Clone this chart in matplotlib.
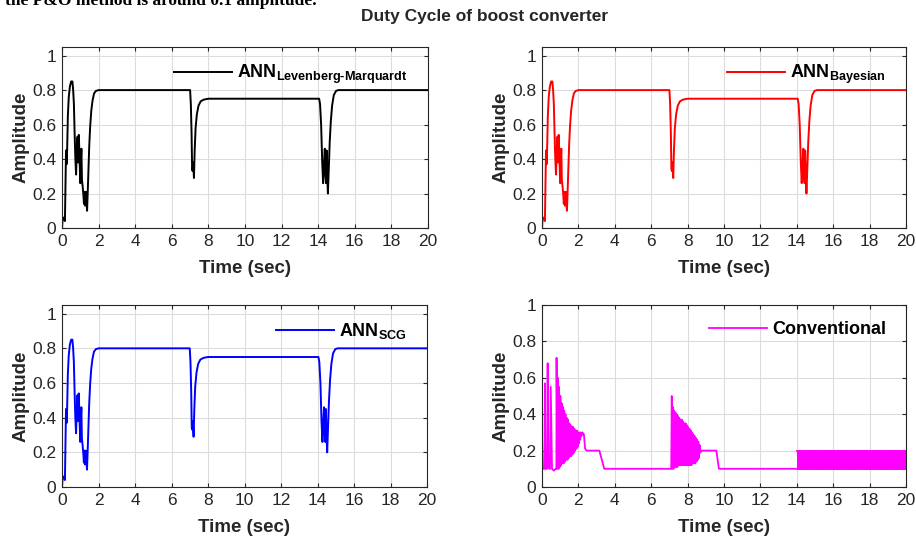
import numpy as np
import matplotlib
matplotlib.use("Agg")
import matplotlib.pyplot as plt

plt.rcParams['font.family'] = ['Liberation Sans', 'DejaVu Sans']
plt.rcParams['mathtext.fontset'] = 'custom'
plt.rcParams['mathtext.rm'] = 'Liberation Sans'
plt.rcParams['mathtext.bf'] = 'Liberation Sans:bold'

# ANN controllers (the three trained networks give visually the same duty cycle)
ann_time = [0.00, 0.04, 0.09, 0.13, 0.16, 0.19, 0.22, 0.25, 0.28, 0.32, 0.37, 0.43,
            0.50, 0.57, 0.61, 0.65, 0.69, 0.73, 0.77, 0.81, 0.85, 0.88, 0.92, 0.96,
            1.00, 1.03, 1.06, 1.09, 1.13, 1.17, 1.20, 1.23, 1.26, 1.30, 1.34, 1.37,
            1.41, 1.45, 1.49, 1.54, 1.60, 1.67, 1.75, 1.85, 2.00,
            7.00, 7.04, 7.08, 7.11, 7.14, 7.17, 7.21, 7.25, 7.30, 7.37, 7.46, 7.58,
            7.75, 8.00,
            14.05, 14.10, 14.16, 14.22, 14.27, 14.32, 14.36, 14.40, 14.43, 14.46,
            14.49, 14.53, 14.58, 14.63, 14.69, 14.76, 14.85, 14.97, 15.10, 20.00]
ann_lm = [0.00, 0.06, 0.06, 0.05, 0.04, 0.25, 0.45, 0.37, 0.45, 0.65, 0.76, 0.82,
          0.85, 0.85, 0.80, 0.72, 0.55, 0.40, 0.31, 0.45, 0.53, 0.38, 0.54, 0.40,
          0.26, 0.38, 0.46, 0.28, 0.24, 0.19, 0.14, 0.21, 0.13, 0.21, 0.15, 0.10,
          0.22, 0.35, 0.48, 0.59, 0.68, 0.74, 0.78, 0.795, 0.80,
          0.80, 0.72, 0.55, 0.34, 0.33, 0.38, 0.29, 0.45, 0.58, 0.66, 0.71, 0.735,
          0.745, 0.75,
          0.75, 0.72, 0.60, 0.38, 0.26, 0.38, 0.46, 0.30, 0.26, 0.45,
          0.32, 0.20, 0.35, 0.50, 0.62, 0.71, 0.77, 0.795, 0.80, 0.80]
ann_bayes = list(ann_lm)
ann_scg = list(ann_lm)

# conventional P&O controller
conv_time = [0.00, 0.03, 0.08, 0.13, 0.16, 0.19, 0.24, 0.28, 0.31, 0.35, 0.40, 0.44,
             0.48, 0.55, 0.65, 0.75, 0.79,
             0.80, 0.84, 0.87, 0.91, 0.94, 0.98, 1.01, 1.05, 1.08, 1.12, 1.15, 1.19,
             1.22, 1.26, 1.29, 1.33, 1.36, 1.40, 1.43, 1.47, 1.50, 1.54, 1.57, 1.61,
             1.64, 1.68, 1.71, 1.75, 1.78, 1.82, 1.85, 1.89, 1.92, 1.96, 1.99, 2.03,
             2.06, 2.10, 2.13, 2.17, 2.22, 2.30, 2.37, 2.45, 3.15, 3.42,
             7.10, 7.13, 7.16, 7.19, 7.23, 7.26, 7.30, 7.33, 7.37, 7.40, 7.44, 7.47,
             7.51, 7.54, 7.58, 7.61, 7.65, 7.68, 7.72, 7.75, 7.79, 7.82, 7.86, 7.89,
             7.93, 7.96, 8.00, 8.03, 8.07, 8.10, 8.14, 8.17, 8.21, 8.24, 8.28, 8.31,
             8.35, 8.38, 8.42, 8.45, 8.49, 8.52, 8.56, 8.59, 8.63, 8.66, 8.70, 8.74,
             9.58, 9.72, 14.00]
conv_duty = [0.29, 0.10, 0.10, 0.10, 0.57, 0.10, 0.10, 0.10, 0.68, 0.12, 0.10, 0.10,
             0.55, 0.10, 0.09, 0.10, 0.10,
             0.71, 0.10, 0.60, 0.10, 0.55, 0.11, 0.50, 0.12, 0.46, 0.13, 0.44, 0.13,
             0.42, 0.14, 0.40, 0.15, 0.38, 0.15, 0.37, 0.16, 0.35, 0.17, 0.34, 0.17,
             0.33, 0.18, 0.33, 0.19, 0.32, 0.20, 0.31, 0.21, 0.31, 0.22, 0.30, 0.24,
             0.30, 0.26, 0.30, 0.28, 0.30, 0.29, 0.21, 0.20, 0.20, 0.10,
             0.10, 0.50, 0.10, 0.44, 0.10, 0.42, 0.11, 0.41, 0.11, 0.40, 0.11, 0.39,
             0.12, 0.38, 0.12, 0.37, 0.12, 0.37, 0.12, 0.36, 0.12, 0.35, 0.12, 0.35,
             0.12, 0.34, 0.12, 0.33, 0.12, 0.32, 0.12, 0.31, 0.12, 0.30, 0.13, 0.29,
             0.13, 0.28, 0.13, 0.27, 0.14, 0.26, 0.15, 0.25, 0.16, 0.23, 0.19, 0.20,
             0.20, 0.10, 0.10]
# steady state: P&O keeps toggling between two duty levels
band_levels = [0.2, 0.1]
band_step = 0.04
band_time = np.arange(14.0, 20.0 + band_step, band_step)
band_duty = np.resize(band_levels, len(band_time))

xticks = list(range(0, 21, 2))
yticks = [0, 0.2, 0.4, 0.6, 0.8, 1]

dark = '#262626'
fig = plt.figure(figsize=(9.16, 5.38), dpi=100)
W, H = 916, 538

def make_ax(left, right, top, bottom):
    return fig.add_axes([left / W, 1 - bottom / H, (right - left) / W, (bottom - top) / H])

panels = [
    (make_ax(62, 428, 47, 228), [(ann_time, ann_lm)], 'k',
     r'$\mathbf{ANN}_{\mathbf{Levenberg‐Marquardt}}$', 1.05),
    (make_ax(542, 906, 47, 228), [(ann_time, ann_bayes)], '#ff0000',
     r'$\mathbf{ANN}_{\mathbf{Bayesian}}$', 1.05),
    (make_ax(62, 427, 305, 487), [(ann_time, ann_scg)], '#0000ff',
     r'$\mathbf{ANN}_{\mathbf{SCG}}$', 1.05),
    (make_ax(542, 906, 305, 487), [(conv_time, conv_duty), (band_time, band_duty)],
     '#ff00ff', 'Conventional', 1.0),
]

for ax, series, col, lab, ytop in panels:
    for i, (t, v) in enumerate(series):
        ax.plot(t, v, color=col, lw=1.4 if col != '#ff00ff' else 1.3,
                drawstyle='steps-post' if i == 1 else 'default',
                label=lab if i == 0 else None)
    ax.set_xlim(0, 20)
    ax.set_ylim(0, ytop)
    ax.set_xticks(xticks)
    ax.set_yticks(yticks)
    ax.set_yticklabels(['0', '0.2', '0.4', '0.6', '0.8', '1'])
    ax.grid(True, color='#dcdcdc', lw=0.8)
    ax.set_axisbelow(True)
    ax.tick_params(direction='in', length=3, top=True, right=True,
                   labelsize=12.5, colors=dark, width=0.8, pad=4)
    for s in ax.spines.values():
        s.set_color(dark)
        s.set_linewidth(0.8)
    ax.set_xlabel('Time (sec)', fontsize=13.5, fontweight='bold', color=dark, labelpad=8)
    ax.set_ylabel('Amplitude', fontsize=13.5, fontweight='bold', color=dark, labelpad=2)
    leg = ax.legend(loc='upper right', bbox_to_anchor=(0.965, 0.95), frameon=False,
                    handlelength=3.2, handletextpad=0.3, borderaxespad=0,
                    prop={'weight': 'bold', 'size': 13})

fig.text(485 / W, 1 - 17 / H, 'Duty Cycle of boost converter', ha='center', va='center',
         fontsize=12.5, fontweight='bold', color=dark)
fig.text(5 / W, 1 - 5 / H, 'the P&O method is around 0.1 amplitude.', ha='left',
         va='baseline', fontsize=12.5, fontweight='bold', family='Liberation Serif')

fig.savefig('out.png', dpi=100)
